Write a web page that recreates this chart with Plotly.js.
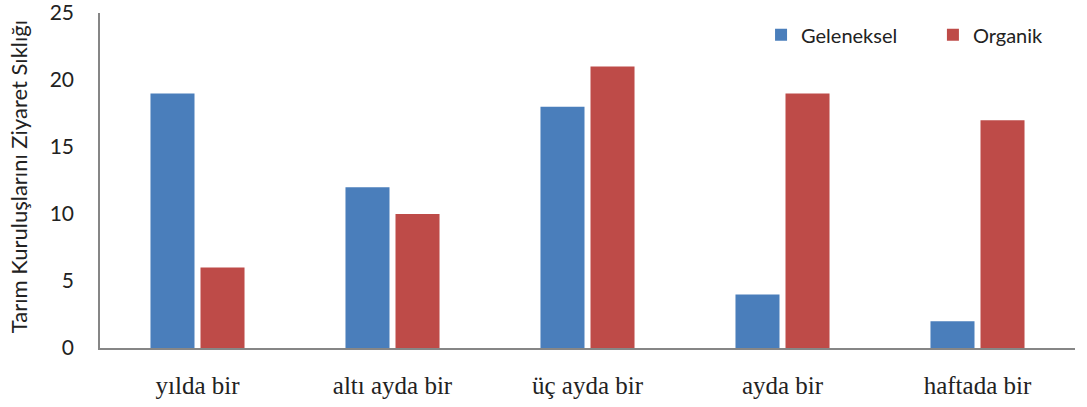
<!DOCTYPE html>
<html><head><meta charset="utf-8">
<script src="https://cdn.plot.ly/plotly-3.0.1.min.js"></script>
<style>html,body{margin:0;padding:0;background:#fff}#chart{width:1087px;height:407px}</style>
</head><body><div id="chart"></div>
<script>
const categories = ["yılda bir", "altı ayda bir", "üç ayda bir", "ayda bir", "haftada bir"];
const geleneksel = [19, 12, 18, 4, 2];
const organik = [6, 10, 21, 19, 17];
const tickVals = [0, 5, 10, 15, 20, 25];
const seriesNames = ["Geleneksel", "Organik"];
const yTitle = "Tarım Kuruluşlarını Ziyaret Sıklığı";

const pad = "\u00a0\u00a0\u00a0\u00a0\u00a0\u00a0";
const traces = [
  {type: "bar", name: seriesNames[0] + pad, x: categories, y: geleneksel, marker: {color: "#4A7EBB"}},
  {type: "bar", name: seriesNames[1], x: categories, y: organik, marker: {color: "#BE4B48"}}
];
const layout = {
  width: 1087, height: 407,
  margin: {l: 100, r: 12, t: 13, b: 59},
  paper_bgcolor: "#fff", plot_bgcolor: "#fff",
  barmode: "group", bargap: 0.487, bargroupgap: 0.12,
  showlegend: true,
  legend: {orientation: "h", x: 0.678, y: 0.935, xanchor: "left", yanchor: "middle",
    font: {family: "Lato, 'Open Sans', sans-serif", size: 20, color: "#222"},
    itemwidth: 30, traceorder: "normal", bgcolor: "rgba(0,0,0,0)"},
  xaxis: {showline: true, linecolor: "#868686", linewidth: 1.5, ticks: "", showgrid: false,
    ticklabelstandoff: 14,
    tickfont: {family: "'Liberation Serif', 'Times New Roman', serif", size: 25, color: "#222"}},
  yaxis: {range: [0, 25], tickvals: tickVals, showline: true, linecolor: "#868686", linewidth: 1.5,
    ticks: "", showgrid: false, zeroline: false, ticklabelstandoff: 20, ticklabeloverflow: "allow",
    tickfont: {family: "Lato, 'Open Sans', sans-serif", size: 21, color: "#222"}},
  annotations: [{text: yTitle, xref: "paper", yref: "paper", x: -0.084, y: 0.51,
    xanchor: "center", yanchor: "middle", textangle: -90, showarrow: false,
    font: {family: "Lato, 'Open Sans', sans-serif", size: 22, color: "#222"}}]
};
Plotly.newPlot("chart", traces, layout, {displayModeBar: false});
</script></body></html>
